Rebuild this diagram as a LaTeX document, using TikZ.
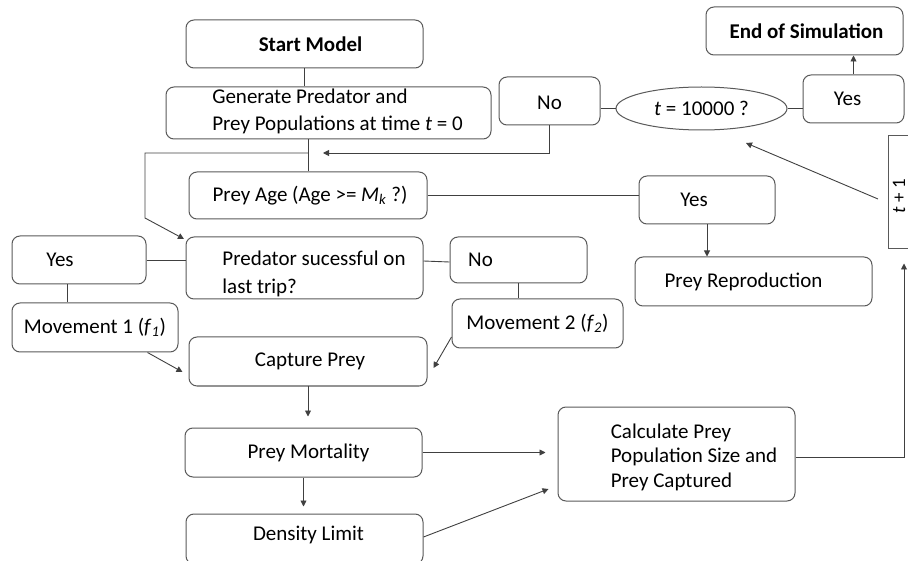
\documentclass[tikz,border=0pt]{standalone}
\usepackage{fontspec}
\setmainfont{Carlito}
\usetikzlibrary{arrows.meta,shapes.geometric,calc}
\begin{document}
\begin{tikzpicture}[x=1pt,y=-1pt,
  box/.style={draw=black!65, line width=1pt, rounded corners=8pt, inner sep=0pt},
  txt/.style={font=\fontsize{21}{27}\selectfont, align=left, inner sep=0pt},
  conn/.style={draw=black!75, line width=0.9pt},
  arr/.style={conn, -{Triangle[width=6pt,length=6pt]}}]
\useasboundingbox (0,0) rectangle (908,561);

% boxes
\node[box, minimum width=237pt, minimum height=48pt, label={[txt,xshift=6pt]center:{\bfseries Start Model}}] (start) at (304.5,44) {};
\node[box, minimum width=325pt, minimum height=52pt, label={[txt,xshift=9pt,yshift=1.5pt]center:{Generate Predator and\\Prey Populations at time \textit{t} = 0}}] (gen) at (328.5,113) {};
\node[box, minimum width=101pt, minimum height=48pt, label={[txt,yshift=-2pt]center:{No}}] (noT) at (549.5,101) {};
\node[draw=black!65, line width=1pt, ellipse, inner sep=0pt, minimum width=171pt, minimum height=43pt, label={[txt]center:{\textit{t} = 10000 ?}}] (ell) at (701.5,108.5) {};
\node[box, minimum width=101pt, minimum height=48pt, label={[txt,xshift=-6pt]center:{Yes}}] (yesT) at (853.5,99) {};
\node[box, minimum width=197pt, minimum height=48pt, label={[txt,xshift=2pt]center:{\bfseries End of Simulation}}] (end) at (804.5,31) {};
\node[draw=black!65, line width=1pt, inner sep=0pt, minimum width=32pt, minimum height=113pt, label={[txt,font=\fontsize{19}{23}\selectfont,xshift=-5pt,yshift=-3.5pt,rotate=90]center:{\textit{t} + 1}}] (tp1) at (904,192.5) {};
\node[box, minimum width=238pt, minimum height=47pt, label={[txt,xshift=2pt]center:{Prey Age (Age >= \textit{M}\textsubscript{\textit{k}} ?)}}] (preyAge) at (308,195.5) {};
\node[box, minimum width=136pt, minimum height=48pt, label={[txt,xshift=-13pt]center:{Yes}}] (yesM) at (707,200) {};
\node[box, minimum width=237pt, minimum height=49pt, label={[txt,xshift=-10pt]center:{Prey Reproduction}}] (repro) at (753.5,281.5) {};
\node[box, minimum width=237pt, minimum height=62pt, label={[txt,font=\fontsize{21}{28}\selectfont,xshift=9.5pt,yshift=-6pt]center:{Predator sucessful on\\last trip?}}] (pred) at (304.5,268) {};
\node[box, minimum width=134pt, minimum height=48pt, label={[txt,xshift=-19pt]center:{Yes}}] (yesL) at (79,260) {};
\node[box, minimum width=166pt, minimum height=49pt, label={[txt]center:{Movement 1 (\textit{f}\textsubscript{\textit{1}})}}] (mov1) at (95,327.5) {};
\node[box, minimum width=137pt, minimum height=46pt, label={[txt,xshift=-38pt]center:{No}}] (noM) at (518.5,260) {};
\node[box, minimum width=171pt, minimum height=49pt, label={[txt]center:{Movement 2 (\textit{f}\textsubscript{\textit{2}})}}] (mov2) at (537.5,323.5) {};
\node[box, minimum width=238pt, minimum height=49pt, label={[txt,xshift=2pt]center:{Capture Prey}}] (capt) at (308,361.5) {};
\node[box, minimum width=237pt, minimum height=49pt, label={[txt,xshift=5pt]center:{Prey Mortality}}] (mort) at (303.5,452.5) {};
\node[box, minimum width=237pt, minimum height=50pt, label={[txt,xshift=4pt,yshift=4pt]center:{Density Limit}}] (dens) at (304.5,539) {};
\node[box, minimum width=237pt, minimum height=94pt, label={[txt,font=\fontsize{21}{24.5}\selectfont,xshift=17.5pt,yshift=-3pt]center:{Calculate Prey\\Population Size and\\Prey Captured}}] (calc) at (676.5,454) {};

% helper coordinates
\coordinate (lvl) at (0,153);
\coordinate (j1) at (preyAge.north |- lvl);
\coordinate (cL1) at (145,153);
\coordinate (cL2) at (145,218);
\coordinate (predTip) at (184,239);
\coordinate (fbTip) at (323,153);
\coordinate (tpS) at (878,199);
\coordinate (ellTip) at (746,143);

% connectors
\draw[conn] (start.south) -- (start.south |- gen.north);
\draw[conn] (preyAge.north |- gen.south) -- (preyAge.north);
\draw[arr] (j1) -- (cL1) -- (cL2) -- (predTip);
\draw[arr] (noT.south) |- (fbTip);
\draw[conn] (noT.east |- ell.west) -- (ell.west);
\draw[conn] (ell.east) -- (ell.east -| yesT.west);
\draw[arr] (yesT.north) -- (yesT.north |- end.south);
\draw[arr] (tpS) -- (ellTip);
\draw[conn] (preyAge.east) -- (preyAge.east -| yesM.west);
\draw[arr] (yesM.south) -- (yesM.south |- repro.north);
\draw[conn] (yesL.east) -- (yesL.east -| pred.west);
\draw[conn] ($(yesL.south)+(-12,0)$) -- ($(mov1.north)+(-28,0)$);
\draw[arr] ($(mov1.south east)+(-31,0)$) -- ($(capt.west)+(-6,10.5)$);
\draw[conn] ($(pred.east)+(0,-7)$) -- ($(noM.west)+(0,2)$);
\draw[conn] (noM.south) -- (noM.south |- mov2.north);
\draw[arr] ($(mov2.west)+(0,13.5)$) -- ($(capt.east)+(6,6.5)$);
\draw[arr] (capt.south) -- ($(capt.south |- mort.north)+(0,-11)$);
\draw[arr] (mort.south) -- ($(mort.south |- dens.north)+(0,-7)$);
\draw[arr] (mort.east) -- ($(calc.west |- mort.east)+(-12,0)$);
\draw[arr] ($(dens.east)+(0,-2)$) -- ($(calc.west)+(-9,35)$);
\draw[arr] ($(calc.east)+(0,3)$) -| ($(tp1.south)+(0,14)$);
\end{tikzpicture}
\end{document}
